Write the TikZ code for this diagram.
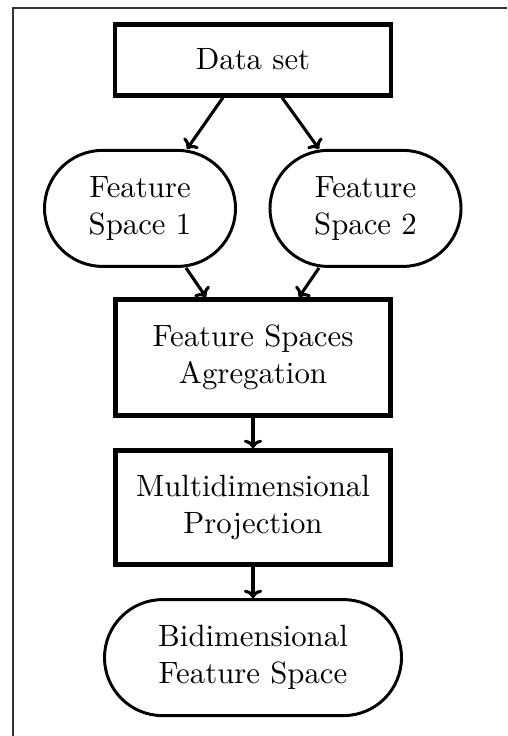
\documentclass[tikz,border=0pt]{standalone}
\usepackage{fontspec}
\setmainfont{lmroman10-regular}[Extension=.otf]
\usepackage{tikz}
\usetikzlibrary{arrows.meta}

\begin{document}
\begin{tikzpicture}[
    font=\fontsize{21.9}{26.3}\selectfont,
    stage/.style={rectangle, draw, line width=3.5pt, minimum width=6.875cm, minimum height=2.9cm, align=center},
    space/.style={rectangle, draw, line width=2.1pt, rounded corners=1.45cm, minimum width=4.775cm, minimum height=2.9cm, align=center},
    flow/.style={draw, line width=2.2pt, -{To[length=6pt,width=13pt]}}
]
    \useasboundingbox (0,0) rectangle (12.675,-18.4);
    % page frame
    \draw[black!80, line width=1pt] (0.325,-18.4) -- (0.325,-0.2) -- (12.675,-0.2);

    \node[stage, minimum width=6.9cm, minimum height=1.775cm] (dataset) at (6.325,-1.49) {Data set};
    \node[space] (space1) at (3.5,-5.21) {Feature\\Space 1};
    \node[space] (space2) at (9.1375,-5.21) {Feature\\Space 2};
    \node[stage, minimum height=2.9cm] (aggreg) at (6.325,-8.94) {Feature Spaces\\Agregation};
    \node[stage, minimum height=2.85cm] (projection) at (6.325,-12.69) {Multidimensional\\Projection};
    \node[space, minimum width=7.425cm] (bidim) at (6.325,-16.44) {Bidimensional\\Feature Space};

    \draw[flow] ([xshift=-0.75cm]dataset.south) -- ([xshift=1.175cm]space1.north);
    \draw[flow] ([xshift=0.725cm]dataset.south) -- ([xshift=-1.1625cm]space2.north);
    \draw[flow] ([xshift=1.15cm]space1.south) -- ([xshift=-1.175cm]aggreg.north);
    \draw[flow] ([xshift=-1.1625cm]space2.south) -- ([xshift=1.15cm]aggreg.north);
    \draw[flow] (aggreg) -- (projection);
    \draw[flow] (projection) -- (bidim);
\end{tikzpicture}
\end{document}
